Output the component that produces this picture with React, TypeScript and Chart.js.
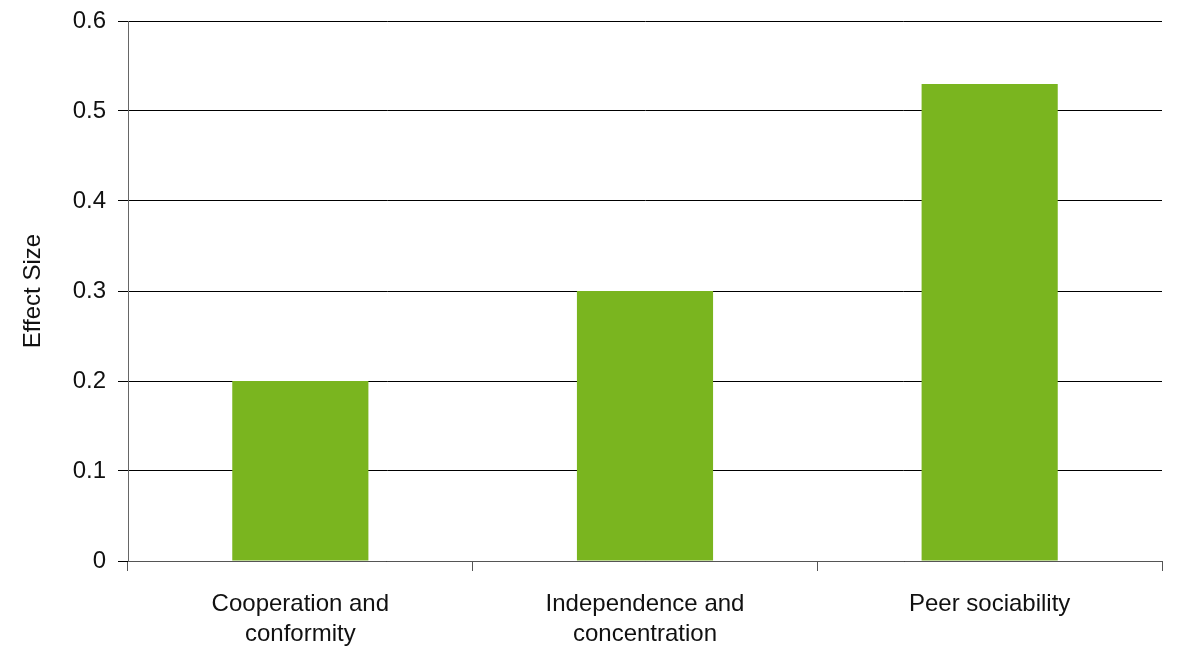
import React, { useEffect, useRef } from "react";
import { Chart, registerables } from "chart.js";

Chart.register(...registerables);

const categories: (string | string[])[] = [
  ["Cooperation and", "conformity"],
  ["Independence and", "concentration"],
  "Peer sociability",
];
const effectSizes: number[] = [0.2, 0.3, 0.53];
const yTicks: number[] = [0, 0.1, 0.2, 0.3, 0.4, 0.5, 0.6];

const FONT = "'Liberation Sans', Arial, Helvetica, sans-serif";

export default function App() {
  const ref = useRef<HTMLCanvasElement | null>(null);
  useEffect(() => {
    if (!ref.current) return;
    const chart = new Chart(ref.current, {
      type: "bar",
      data: {
        labels: categories,
        datasets: [
          {
            data: effectSizes,
            backgroundColor: "#7AB51F",
            borderWidth: 0,
            categoryPercentage: 1,
            barPercentage: 0.395,
          },
        ],
      },
      options: {
        responsive: false,
        animation: false,
        layout: { padding: { top: 0, right: 20, bottom: 0, left: 0 } },
        plugins: { legend: { display: false }, tooltip: { enabled: false } },
        scales: {
          x: {
            offset: true,
            grid: {
              offset: true,
              drawOnChartArea: false,
              drawTicks: true,
              tickLength: 10,
              tickColor: "#555",
            },
            border: { display: true, color: "#555", width: 1 },
            ticks: {
              color: "#111",
              font: { family: FONT, size: 24, lineHeight: 1.25 },
              padding: 18,
              maxRotation: 0,
              autoSkip: false,
            },
            afterFit: (s: any) => {
              s.height = 87;
            },
          },
          y: {
            min: 0,
            max: 0.6,
            afterBuildTicks: (s: any) => {
              s.ticks = yTicks.map((v) => ({ value: v }));
            },
            grid: {
              color: "#000",
              tickColor: "#000",
              drawTicks: true,
              tickLength: 10,
              lineWidth: 1,
            },
            border: { display: true, color: "#666", width: 1 },
            ticks: {
              color: "#111",
              font: { family: FONT, size: 24 },
              padding: 12,
              callback: (v: any) => String(Number(v)),
            },
            title: {
              display: true,
              text: "Effect Size",
              color: "#111",
              font: { family: FONT, size: 24 },
              padding: { top: 19, bottom: 0 },
            },
            afterFit: (s: any) => {
              s.width = 128;
              s.paddingTop = 21;
              s.paddingBottom = 0;
            },
          },
        },
      },
    });
    return () => chart.destroy();
  }, []);
  return (
    <div style={{ position: "fixed", left: 0, top: 0, width: 1182, height: 648, background: "#fff" }}>
      <canvas ref={ref} width={1182} height={648} />
    </div>
  );
}
